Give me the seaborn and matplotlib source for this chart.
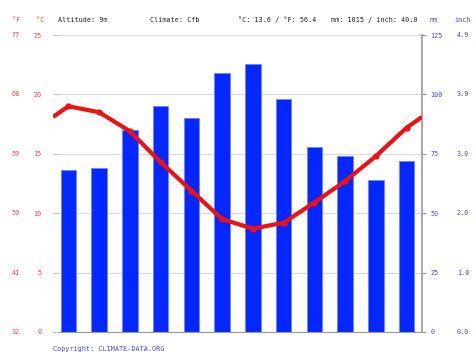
import matplotlib
matplotlib.use("Agg")
import matplotlib.pyplot as plt
import matplotlib.transforms as mtransforms
import seaborn as sns
import pandas as pd
import numpy as np

months = ["01", "02", "03", "04", "05", "06", "07", "08", "09", "10", "11", "12"]
precip_mm = [68, 69, 85, 95, 90, 109, 113, 98, 78, 74, 64, 72]
temp_c = [19.0, 18.5, 16.9, 14.3, 11.9, 9.5, 8.7, 9.2, 10.9, 12.7, 14.8, 17.2]
c_ticks = [0, 5, 10, 15, 20, 25]
f_labels = ["32", "41", "50", "59", "68", "77"]
mm_ticks = [0, 25, 50, 75, 100, 125]
inch_labels = ["0.0", "1.0", "2.0", "3.0", "3.9", "4.9"]
header = {"alt": "Altitude: 9m", "clim": "Climate: Cfb",
          "temp": "°C: 13.6 / °F: 56.4", "prec": "mm: 1015 / inch: 40.0"}
copyright_text = "Copyright: CLIMATE-DATA.ORG"

sns.set_style("white")
plt.rcParams["font.family"] = ["DejaVu Sans Mono", "DejaVu Sans"]

RED_TXT = "#e5484d"
BLUE_TXT = "#4a4ad8"
BAR = "#0527ff"
LINE = "#ee1111"
FS = 4.9

W, H = 474, 355
fig = plt.figure(figsize=(W / 100, H / 100), dpi=100)
fig.patch.set_facecolor("white")
ax = fig.add_axes([53 / W, 23 / H, 369 / W, 297 / H])
ax2 = ax.twinx()

# precipitation bars
dfp = pd.DataFrame({"month": months, "mm": precip_mm})
sns.barplot(data=dfp, x="month", y="mm", ax=ax2, color=BAR, width=0.5,
            saturation=1, edgecolor="#6f86ff", linewidth=0.6)
ax2.set_ylim(0, 125)
ax2.set_xlim(-0.5, 11.5)

# temperature line (ends continued to the half-month edges)
edge = (temp_c[0] + temp_c[-1]) / 2
xs = [-0.5] + list(range(12)) + [11.5]
ys = [edge] + temp_c + [edge]
dft = pd.DataFrame({"x": xs, "t": ys})
sns.lineplot(data=dft, x="x", y="t", ax=ax, color=LINE, linewidth=3.0,
             marker="o", markersize=4.5, markeredgewidth=0,
             markevery=list(range(1, 13)), solid_capstyle="butt")
ax.set_ylim(0, 25)
ax.set_xlim(-0.5, 11.5)

ax.set_zorder(ax2.get_zorder() + 1)
ax.patch.set_visible(False)
ax2.patch.set_visible(True)
ax2.patch.set_facecolor("white")

# grid lines (drawn on ax2 below bars)
for v in mm_ticks:
    ax2.axhline(v, color="#dddddd", lw=0.9, zorder=0)

for a in (ax, ax2):
    a.set_xlabel("")
    a.set_ylabel("")
    for s in ("top", "left", "bottom", "right"):
        a.spines[s].set_visible(False)
ax2.spines["right"].set_visible(True)
ax2.spines["right"].set_color("#999999")
ax2.spines["right"].set_linewidth(1.2)
ax2.spines["bottom"].set_visible(True)
ax2.spines["bottom"].set_color("#999999")
ax2.spines["bottom"].set_linewidth(0.8)

# left (temperature) ticks
ax.set_yticks(c_ticks)
ax.set_yticklabels([str(v) for v in c_ticks])
ax.tick_params(axis="y", left=True, length=4, width=0.8, color="#cccccc",
               direction="in", labelsize=FS, labelcolor=RED_TXT, pad=8)
ax.set_xticks([])
ax.tick_params(axis="x", bottom=False, labelbottom=False)

# right (precip) ticks
ax2.set_yticks(mm_ticks)
ax2.set_yticklabels([str(v) for v in mm_ticks])
ax2.tick_params(axis="y", right=True, length=3, width=0.8, color="#999999",
                labelsize=FS, labelcolor=BLUE_TXT, pad=3)
for lab in ax2.get_yticklabels():
    lab.set_horizontalalignment("left")

# month labels
ax2.set_xticks(range(12))
ax2.set_xticklabels(months)
ax2.set_xticks(np.arange(-0.5, 12, 1.0), minor=True)
ax2.tick_params(axis="x", which="major", bottom=False, labelsize=FS,
                labelcolor="#333333", pad=2)
ax2.tick_params(axis="x", which="minor", bottom=True, length=2, width=0.8,
                color="#777777")

# secondary label columns
trL = mtransforms.blended_transform_factory(fig.transFigure, ax.transData)
for v, lab in zip(c_ticks, f_labels):
    fig.text(16 / W, v, lab, transform=trL, ha="center", va="center",
             fontsize=FS, color=RED_TXT)
trR = mtransforms.blended_transform_factory(fig.transFigure, ax2.transData)
for v, lab in zip(mm_ticks, inch_labels):
    fig.text(463 / W, v, lab, transform=trR, ha="center", va="center",
             fontsize=FS, color=BLUE_TXT)

# header
yh = 1 - 20 / H
fig.text(16 / W, yh, "°F", ha="center", va="center", fontsize=FS, color=RED_TXT)
fig.text(40 / W, yh, "°C", ha="center", va="center", fontsize=FS, color=RED_TXT)
fig.text(58 / W, yh, header["alt"], ha="left", va="center", fontsize=FS, color="#222222")
fig.text(150 / W, yh, header["clim"], ha="left", va="center", fontsize=FS, color="#222222")
fig.text(238 / W, yh, header["temp"], ha="left", va="center", fontsize=FS, color="#222222")
fig.text(331 / W, yh, header["prec"], ha="left", va="center", fontsize=FS, color="#222222")
fig.text(434 / W, yh, "mm", ha="center", va="center", fontsize=FS, color=BLUE_TXT)
fig.text(463 / W, yh, "inch", ha="center", va="center", fontsize=FS, color=BLUE_TXT)

fig.text(53 / W, 1 - 349 / H, copyright_text, ha="left", va="center",
         fontsize=FS, color=BLUE_TXT)

fig.savefig("out.png", dpi=100)
